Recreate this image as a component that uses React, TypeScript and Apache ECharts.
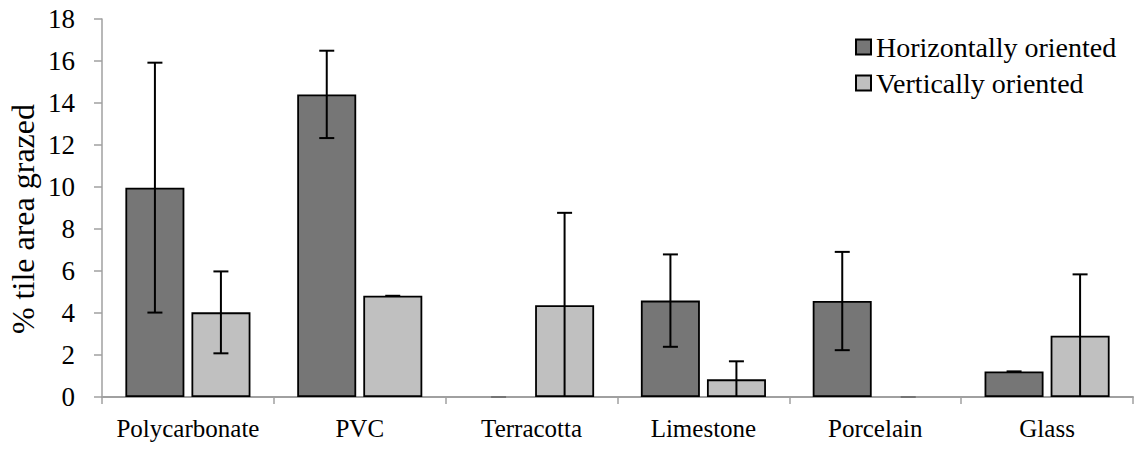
import React, { useEffect, useRef } from "react";
import * as echarts from "echarts";

const categories = ["Polycarbonate", "PVC", "Terracotta", "Limestone", "Porcelain", "Glass"];
const seriesNames = ["Horizontally oriented", "Vertically oriented"];
const horizontal = [9.97, 14.41, 0, 4.59, 4.57, 1.22];
const vertical = [4.03, 4.82, 4.37, 0.84, 0, 2.92];
const horizontalErr = [5.95, 2.08, 0, 2.2, 2.34, 0];
const verticalErr = [1.95, 0, 4.4, 0.86, 0, 2.92];
const yTicks = { min: 0, max: 18, interval: 2 };
const yTitle = "% tile area grazed";

const FONT = "Liberation Serif";
const DARK = "#767676";
const LIGHT = "#c0c0c0";
const BAR_W = 59;
const OFFSET = 33;
const CAP = 15;

function errorData(values: number[], errs: number[]) {
  return values.map((v, i) => [i, v, v - errs[i], v + errs[i]]);
}

function barData(values: number[]) {
  return values.map((v) => (v === 0 ? { value: v, itemStyle: { borderWidth: 0 } } : v));
}

function makeRenderItem(offset: number) {
  return (params: any, api: any) => {
    const idx = api.value(0);
    const v = api.value(1);
    const lo = api.value(2);
    const hi = api.value(3);
    const top = api.coord([idx, hi]);
    const clippedLo = Math.max(0, lo);
    const bottom = api.coord([idx, clippedLo]);
    const x = top[0] + offset;
    const children: any[] = [];
    const style = { stroke: "#000", lineWidth: 2 };
    if (hi !== lo) {
      children.push({
        type: "line",
        shape: { x1: x, y1: top[1], x2: x, y2: bottom[1] },
        style,
      });
    }
    children.push({
      type: "line",
      shape: { x1: x - CAP / 2, y1: top[1], x2: x + CAP / 2, y2: top[1] },
      style: v === 0 ? { stroke: "#666", lineWidth: 1.5 } : style,
    });
    if (lo > 0.05 && hi !== lo) {
      children.push({
        type: "line",
        shape: { x1: x - CAP / 2, y1: bottom[1], x2: x + CAP / 2, y2: bottom[1] },
        style,
      });
    }
    return { type: "group", children };
  };
}

export default function App() {
  const ref = useRef<HTMLDivElement>(null);
  useEffect(() => {
    if (!ref.current) return;
    const chart = echarts.init(ref.current, undefined, { renderer: "svg" });
    chart.setOption({
      animation: false,
      backgroundColor: "#ffffff",
      textStyle: { fontFamily: FONT },
      grid: { left: 102, right: 2, top: 19, bottom: 53, containLabel: false },
      legend: {
        orient: "vertical",
        left: 855,
        top: 33,
        padding: 0,
        itemWidth: 15,
        itemHeight: 15,
        itemGap: 8,
        icon: "rect",
        textStyle: { fontFamily: FONT, fontSize: 28, color: "#000", lineHeight: 28 },
        data: seriesNames,
      },
      graphic: [
        {
          type: "text",
          x: 23,
          y: 219,
          rotation: Math.PI / 2,
          style: {
            text: yTitle,
            font: `32px "${FONT}"`,
            fill: "#000",
            textAlign: "center",
            textVerticalAlign: "middle",
          },
        },
      ],
      xAxis: {
        type: "category",
        data: categories,
        axisLine: { lineStyle: { color: "#a0a0a0", width: 2 } },
        axisTick: { show: true, length: 7, lineStyle: { color: "#a0a0a0", width: 1.5 } },
        axisLabel: { interval: 0, fontFamily: FONT, fontSize: 25, color: "#000", margin: 19 },
      },
      yAxis: {
        type: "value",
        min: yTicks.min,
        max: yTicks.max,
        interval: yTicks.interval,
        axisLine: { show: true, lineStyle: { color: "#a0a0a0", width: 1.5 } },
        axisTick: { show: true, length: 8, lineStyle: { color: "#a0a0a0", width: 1.5 } },
        splitLine: { show: false },
        axisLabel: { fontFamily: FONT, fontSize: 27, color: "#000", margin: 27 },
      },
      series: [
        {
          name: seriesNames[0],
          type: "bar",
          data: barData(horizontal),
          barWidth: BAR_W,
          barGap: "12%",
          itemStyle: { color: DARK, borderColor: "#000", borderWidth: 1.8 },
        },
        {
          name: seriesNames[1],
          type: "bar",
          data: barData(vertical),
          barWidth: BAR_W,
          barGap: "12%",
          itemStyle: { color: LIGHT, borderColor: "#000", borderWidth: 1.8 },
        },
        {
          type: "custom",
          name: "errH",
          renderItem: makeRenderItem(-OFFSET),
          data: errorData(horizontal, horizontalErr),
          z: 5,
          clip: false,
        },
        {
          type: "custom",
          name: "errV",
          renderItem: makeRenderItem(OFFSET),
          data: errorData(vertical, verticalErr),
          z: 5,
          clip: false,
        },
      ],
    });
    return () => chart.dispose();
  }, []);
  return (
    <div
      ref={ref}
      style={{ position: "fixed", left: 0, top: 0, width: 1135, height: 450 }}
    />
  );
}
